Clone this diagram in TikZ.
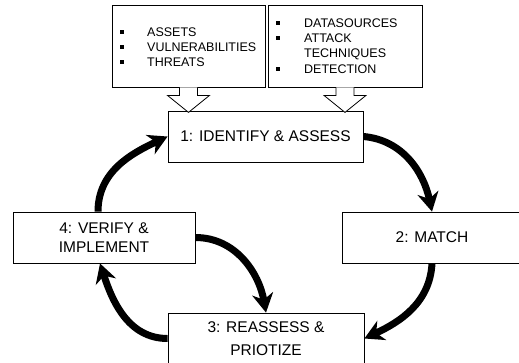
\documentclass[tikz,border=0pt]{standalone}
\usepackage{fontspec}
\setmainfont{Liberation Sans}
\usetikzlibrary{arrows.meta,calc}
\tikzset{
  stage/.style={draw=black, line width=0.8pt, fill=white, inner sep=0pt,
    minimum height=51pt, align=center, font=\fontsize{15.5}{18.5}\selectfont},
  infobox/.style={draw=black, line width=0.8pt, fill=white, inner sep=0pt,
    minimum width=153pt, minimum height=82pt},
  item/.style={anchor=base west, inner sep=0pt, font=\fontsize{12.5}{15}\selectfont},
  dot/.style={fill=black, inner sep=0pt, minimum size=3.6pt},
  feed/.style={draw=black, line width=0.8pt, fill=white, line join=miter},
  cycle/.style={line width=7pt, -{Stealth[length=19pt,width=21pt,inset=6pt]}}
}
\begin{document}
\begin{tikzpicture}[x=1pt,y=1pt]
\useasboundingbox (0,0) rectangle (519,-362);
\clip (0,0) rectangle (519,-362);

% input boxes
\node[infobox] (tl) at (188.5,-46) {};
\node[infobox, minimum width=154pt] (tr) at (345,-46) {};

\node[dot] (b1) at (122,-32) {};
\node[dot] (b2) at (122,-47) {};
\node[dot] (b3) at (122,-62) {};
\node[item] (t1) at (147,-36.5) {ASSETS};
\node[item] (t2) at (147,-51.5) {VULNERABILITIES};
\node[item] (t3) at (147,-66.5) {THREATS};

\node[dot] (c1) at (278,-23) {};
\node[dot] (c2) at (278,-38) {};
\node[dot] (c4) at (278,-69) {};
\node[item] (u1) at (304,-27.5) {DATASOURCES};
\node[item] (u2) at (304,-42.5) {ATTACK};
\node[item] (u3) at (304,-57.5) {TECHNIQUES};
\node[item] (u4) at (304,-73.5) {DETECTION};

% cycle stages
\node[stage, minimum width=195pt] (n1) at (265.5,-136.5) {1: IDENTIFY \& ASSESS};
\node[stage, minimum width=180pt] (n2) at (432,-237.5) {2: MATCH};
\node[stage, minimum width=196pt] (n3) at (266,-338.5) {3: REASSESS \&\\[5pt]PRIOTIZE};
\node[stage, minimum width=182pt] (n4) at (104,-237.5) {4: VERIFY \&\\IMPLEMENT};

% hollow feed arrows from the input boxes
\draw[feed] (tl.south) ++(-9,0) -- ++(0,-8) -- ++(-12,0) -- ($(tl.south)+(0,-25)$)
  -- ($(tl.south)+(21,-8)$) -- ++(-12,0) -- ($(tl.south)+(9,0)$);
\draw[feed] (tr.south) ++(-9,0) -- ++(0,-8) -- ++(-12,0) -- ($(tr.south)+(0,-25)$)
  -- ($(tr.south)+(21,-8)$) -- ++(-12,0) -- ($(tr.south)+(9,0)$);

% cycle arrows
\draw[cycle] (n1.east) to[out=-5,in=102] (n2.north);
\draw[cycle] (n2.south) to[out=-93,in=25] (n3.east);
\draw[cycle] (n4.east) to[out=0,in=100] (n3.north);
\draw[cycle] (n3.west) to[out=180,in=-72] ([xshift=-4pt]n4.south);
\draw[cycle] ([xshift=-6pt]n4.north) to[out=90,in=205] (n1.west);
\end{tikzpicture}
\end{document}
